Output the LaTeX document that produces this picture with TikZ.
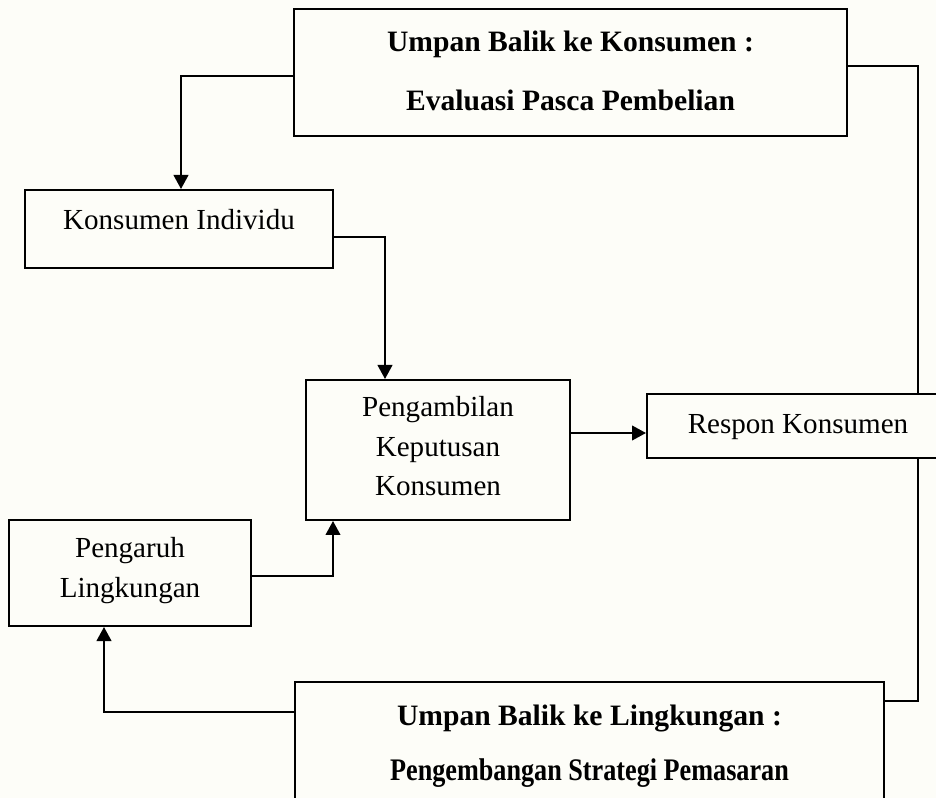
\documentclass[tikz,border=0pt]{standalone}
\usepackage{fontspec}
\usepackage{graphicx}
\setmainfont{Liberation Serif}
\usetikzlibrary{arrows.meta,fit}
\definecolor{paper}{RGB}{253,253,248}
% #1: rise of the first baseline above the box centre, #2: line pitch, #3: rows
\newcommand\boxrows[3]{\raisebox{#1}[0pt][0pt]{\fontsize{21.8}{#2}\selectfont
  \begin{tabular}[t]{@{}c@{}}#3\end{tabular}}}
\newcommand\boldrows[3]{\raisebox{#1}[0pt][0pt]{\fontsize{22.2}{#2}\selectfont\bfseries
  \begin{tabular}[t]{@{}c@{}}#3\end{tabular}}}
\begin{document}
\begin{tikzpicture}[x=0.75pt,y=-0.75pt,
  box/.style={draw, line width=1.5pt, inner sep=0pt},
  link/.style={line width=1.5pt},
  flow/.style={link, -{Triangle[width=11pt,length=10.5pt]}},
]
% page
\fill[paper] (0,0) rectangle (936,798);
\useasboundingbox (0,0) rectangle (936,798);

% boxes
\node (fb) [box, fit={(294,9) (847,136)}]
  {\boldrows{15.4pt}{44.25pt}{Umpan Balik ke Konsumen :\\ Evaluasi Pasca Pembelian}};
\node (ki) [box, fit={(25,190) (333,268)}]
  {\boxrows{-0.75pt}{26pt}{Konsumen Individu}};
\node (pk) [box, fit={(306,380) (570,520)}]
  {\boxrows{24.75pt}{29.6pt}{Pengambilan\\ Keputusan\\ Konsumen}};
\node (ro) [box, fit={(647,394) (949,458)}]
  {\boxrows{-6pt}{26pt}{Respon Konsumen}};
\node (pl) [box, fit={(9,520) (251,626)}]
  {\boxrows{11.25pt}{29.25pt}{Pengaruh\\ Lingkungan}};
\node (ub) [box, fit={(295,682) (884,806)}]
  {\boldrows{14.25pt}{42pt}{Umpan Balik ke Lingkungan :\\
   \scalebox{0.885}[1.06]{Pengembangan Strategi Pemasaran}}};

% connectors
\draw[link] (fb.east |- 0,66) -| (ro.north -| 918,0);
\draw[flow] (fb.west |- 0,76) -| (ki.north -| 181,0);
\draw[flow] (ki.east |- 0,237) -| (pk.north -| 385,0);
\draw[flow] (pk.east |- 0,433) -- (ro.west |- 0,433);
\draw[flow] (pl.east |- 0,576) -| (pk.south -| 333,0);
\draw[flow] (ub.west |- 0,712) -| (pl.south -| 104,0);
\draw[link] (ro.south -| 918,0) |- (ub.east |- 0,701);
\end{tikzpicture}
\end{document}
